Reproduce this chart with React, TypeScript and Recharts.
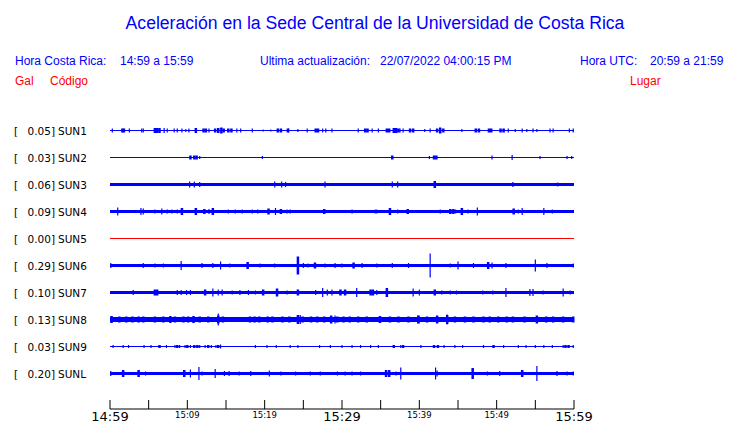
import { ComposedChart, Line, Scatter, ErrorBar, XAxis, YAxis } from 'recharts';

// stations, top to bottom
const stations = ['SUN1', 'SUN2', 'SUN3', 'SUN4', 'SUN5', 'SUN6', 'SUN7', 'SUN8', 'SUN9', 'SUNL'];
const places = [
  'CIMAR',
  'Ingenieria P01',
  'Ingenieria P06',
  'EBCI',
  'Rectoria',
  'Agroalimentarias',
  'Archivo',
  'Electrica P06',
  'Electrica P01',
  'LANAMME-CTT',
];
const peakGal = [0.05, 0.03, 0.06, 0.09, 0.0, 0.29, 0.1, 0.13, 0.03, 0.2];

// minutes after 14:59
const xTicks = [0, 5, 10, 15, 20, 25, 30, 35, 40, 45, 50, 55, 60];
const xTickLabels = ['14:59', '', '15:09', '', '15:19', '', '15:29', '', '15:39', '', '15:49', '', '15:59'];

type Pt = [number, number]; // [minute, half amplitude]

const sun1Spikes: Pt[] = [
  [0.3, 2], [2.5, 2], [4.1, 2], [4.3, 2], [7.0, 2.5], [7.4, 2], [8.3, 2], [8.7, 2], [9.3, 2], [9.8, 1.5],
  [10.2, 2], [12.8, 2], [16.4, 2], [16.9, 2], [18.4, 2], [19.8, 1], [20.8, 1], [23.1, 2], [24.3, 1.5],
  [25.5, 2], [27.5, 2], [27.9, 2], [28.7, 2], [32.1, 2], [33.9, 2], [34.7, 2], [37.5, 2], [37.9, 2],
  [40.7, 1.5], [41.4, 2], [45.5, 1.5], [51.5, 2], [52.4, 1.5], [53.3, 2], [53.9, 1.5], [54.7, 2],
  [55.2, 1.5], [56.9, 2], [57.3, 2], [59.4, 2], [59.9, 2],
];
const sun1Bursts: Pt[] = [
  [1.6, 2], [1.8, 2], [5.8, 2.5], [6.1, 2.5], [6.4, 2.5], [11.1, 2.5], [12.1, 2], [12.4, 2], [13.6, 2],
  [14.0, 2.5], [14.4, 3], [14.7, 2], [15.3, 2], [15.7, 2], [21.7, 2], [22.1, 2], [23.0, 2], [26.6, 2],
  [26.9, 2], [33.0, 2], [33.3, 2], [35.8, 2], [36.1, 2], [36.7, 2.5], [37.0, 2.5], [37.3, 2], [38.8, 2],
  [39.2, 2], [42.3, 2], [42.7, 3], [43.1, 2], [47.3, 2], [47.7, 2], [49.0, 2], [49.3, 2], [50.5, 2], [50.9, 2],
];

const sun2Spikes: Pt[] = [
  [11.6, 1.5], [19.7, 1.5], [41.3, 1.5], [49.4, 2], [52.0, 2.5], [55.6, 1.5], [59.1, 1.5], [59.7, 1.5],
];
const sun2Bursts: Pt[] = [[10.4, 2], [10.9, 2], [11.2, 2], [36.5, 2], [41.9, 2], [42.2, 2]];

const sun3Spikes: Pt[] = [
  [10.3, 3], [10.9, 3], [11.6, 2.5], [21.3, 3], [22.2, 3], [22.7, 2.5], [27.8, 3], [36.5, 3], [37.2, 3],
  [52.1, 2.5], [57.9, 2],
];
const sun3Bursts: Pt[] = [[42.0, 3.5]];

const sun4Spikes: Pt[] = [
  [1.0, 4], [4.0, 3.5], [4.3, 3], [5.8, 2], [6.7, 3], [7.4, 2], [8.0, 2], [8.7, 2], [12.8, 2.5], [15.3, 2],
  [16.2, 2], [17.1, 2], [18.4, 2], [19.1, 2], [21.4, 3.5], [22.9, 2], [23.3, 2], [31.3, 2], [34.3, 2],
  [34.5, 2], [37.2, 2], [42.7, 2], [44.7, 2], [46.3, 2], [47.5, 4], [49.1, 1.5], [49.9, 1.5], [52.8, 2],
  [53.3, 3.5], [54.7, 1.5], [56.1, 3.5], [57.2, 2],
];
const sun4Bursts: Pt[] = [
  [9.3, 3.5], [11.1, 3.5], [12.2, 2.5], [13.3, 3.5], [20.5, 3], [22.1, 2.5], [27.7, 2.5], [36.2, 3.5],
  [38.5, 2.5], [44.0, 2.5], [44.4, 2.5], [45.5, 3.5], [52.2, 3],
];

const sun5Spikes: Pt[] = [];
const sun5Bursts: Pt[] = [];

const sun6Spikes: Pt[] = [
  [0.1, 2.5], [4.3, 2.5], [5.8, 2], [6.9, 2], [9.2, 4.5], [11.9, 2.5], [13.3, 2.5], [14.3, 4], [15.5, 2],
  [19.4, 2], [21.3, 2], [25.0, 2.5], [25.6, 2], [27.8, 2], [29.1, 2.5], [30.0, 2], [32.6, 2.5], [34.5, 2],
  [36.5, 2.5], [38.6, 2.5], [41.4, 12], [44.0, 2], [45.0, 4], [47.0, 2.5], [49.4, 3], [51.2, 2.5],
  [55.0, 6], [56.5, 2.5], [59.9, 2],
];
const sun6Bursts: Pt[] = [[17.8, 3.5], [24.3, 9], [26.5, 3], [31.5, 3], [48.9, 3.5]];

const sun7Spikes: Pt[] = [
  [3.0, 2.5], [8.7, 2.5], [9.2, 2.5], [9.9, 2.5], [10.4, 2.5], [13.3, 4], [14.0, 3], [14.5, 3], [15.8, 2],
  [16.8, 2.5], [17.9, 2.5], [18.8, 2], [22.9, 2], [26.6, 2.5], [27.5, 4.5], [28.1, 3], [28.7, 3],
  [31.9, 4.5], [34.5, 2.5], [39.2, 4], [40.0, 3], [42.9, 2], [44.0, 2], [44.8, 2], [45.6, 1.5], [48.2, 2],
  [49.5, 2], [51.2, 4.5], [54.3, 3.5], [54.7, 3.5], [56.0, 2], [58.6, 4], [59.5, 2],
];
const sun7Bursts: Pt[] = [
  [5.8, 3], [6.1, 3], [12.3, 3], [19.8, 3], [21.6, 4], [24.3, 3], [29.8, 3], [30.4, 3], [33.7, 3],
  [34.0, 3], [35.8, 4.5], [42.0, 3],
];

const sun8Spikes: Pt[] = [
  [14.0, 6], [24.6, 4.5], [29.1, 4], [43.6, 5], [39.8, 4], [15.3, 2.5], [16.5, 2.5], [17.3, 2.5],
];
const sun8Bursts: Pt[] = [
  [0.2, 3.5], [1.2, 3], [2.1, 3], [2.9, 3], [3.7, 3], [4.3, 3], [5.8, 3], [6.9, 3], [7.8, 3.5], [8.4, 3],
  [9.5, 3], [10.1, 3], [10.8, 3.5], [11.6, 3], [12.7, 3], [14.0, 4], [14.6, 3], [18.1, 3], [18.7, 3],
  [19.3, 3], [20.4, 3], [21.0, 3], [22.3, 3], [23.2, 3], [24.3, 4.5], [24.9, 3], [26.0, 3], [26.8, 3],
  [27.7, 3], [28.6, 4], [29.4, 3], [30.2, 3], [31.0, 3], [32.1, 3], [33.2, 3], [34.9, 3.5], [36.2, 3],
  [37.3, 3], [38.6, 3], [39.9, 4], [41.0, 3], [42.3, 4], [43.6, 4.5], [44.6, 3], [45.9, 3], [47.0, 3],
  [48.3, 3], [49.1, 3], [50.2, 3], [51.3, 3], [52.1, 3], [53.6, 3], [55.2, 4], [56.4, 3], [57.3, 3],
  [58.6, 3], [59.9, 3],
];

const sun9Spikes: Pt[] = [
  [0.4, 1.5], [1.7, 1.5], [2.4, 1.5], [4.4, 1.5], [5.3, 1.5], [7.3, 1.5], [8.4, 1.5], [9.0, 1.5], [9.7, 1.5],
  [10.4, 1.5], [11.6, 1.5], [12.3, 1.5], [13.1, 1.5], [13.7, 1.5], [14.3, 2], [18.8, 1.5], [20.3, 1.5],
  [21.5, 1.5], [23.3, 1.5], [24.3, 1.5], [27.1, 1.5], [28.5, 1.5], [30.0, 1.5], [31.3, 1.5], [32.4, 1.5],
  [33.7, 1.5], [34.7, 1.5], [37.6, 1.5], [40.2, 1.5], [43.2, 1.5], [44.6, 1.5], [45.6, 1.5], [48.3, 1.5],
  [50.9, 1.5], [52.8, 1.5], [53.8, 1.5], [55.0, 1.5], [56.1, 1.5], [57.2, 1.5], [58.6, 1.5], [59.9, 1.5],
];
const sun9Bursts: Pt[] = [
  [6.4, 1.5], [8.7, 1.5], [10.0, 1.5], [10.9, 1.5], [11.3, 1.5], [12.7, 1.5], [14.0, 1.5], [36.7, 1.5],
  [37.9, 1.5], [41.9, 1.5], [42.4, 1.5], [49.6, 1.5], [58.9, 1.5], [59.3, 1.5],
];

const sunLSpikes: Pt[] = [
  [0.1, 2.5], [4.6, 2], [10.4, 4], [11.5, 6.5], [11.9, 2], [13.6, 4.5], [14.8, 2.5], [15.4, 2.5], [16.7, 2],
  [18.2, 2.5], [20.6, 3], [22.1, 2], [24.0, 2], [25.9, 2], [27.2, 2], [29.4, 2], [30.4, 2], [31.3, 2],
  [32.4, 2], [37.0, 2], [37.6, 6], [42.1, 6], [42.3, 3], [48.8, 2], [50.4, 2.5], [55.2, 7.5], [57.8, 2.5],
  [59.1, 2], [59.9, 2],
];
const sunLBursts: Pt[] = [[1.7, 3.5], [3.7, 3.5], [9.6, 3.5], [35.7, 3.5], [36.1, 3.5], [46.9, 5.5], [53.3, 3.5]];

const spikesByStation = [
  sun1Spikes, sun2Spikes, sun3Spikes, sun4Spikes, sun5Spikes,
  sun6Spikes, sun7Spikes, sun8Spikes, sun9Spikes, sunLSpikes,
];
const burstsByStation = [
  sun1Bursts, sun2Bursts, sun3Bursts, sun4Bursts, sun5Bursts,
  sun6Bursts, sun7Bursts, sun8Bursts, sun9Bursts, sunLBursts,
];

const ROW_STEP = 27;
const rowValue = (i: number) => (i + 1) * ROW_STEP;
const rowTicks = stations.map((_, i) => rowValue(i));
// half-unit offset keeps the 1px traces on whole pixels
const Y_DOMAIN: [number, number] = [-0.5, 305.5];

const traceWidths = [1, 1, 3, 3, 1, 3, 3, 5, 1, 3];
const BLUE = '#0000ff';
const RED = '#ff0000';
const traceColor = (i: number) => (peakGal[i] === 0 ? RED : BLUE);

const traceTables = stations.map((_, i) => [
  { t: 0, row: rowValue(i) },
  { t: 60, row: rowValue(i) },
]);
const spikeTable = spikesByStation.flatMap((list, i) => list.map(([t, amp]) => ({ t, row: rowValue(i), amp })));
const burstTable = burstsByStation.flatMap((list, i) => list.map(([t, amp]) => ({ t, row: rowValue(i), amp })));

const LABEL_FONT = 'DejaVu Sans, sans-serif';
const HEAD_FONT = 'Liberation Sans, Arial, sans-serif';

function StationTick({ x, y, payload }: any) {
  const i = Math.round(payload.value / ROW_STEP) - 1;
  return (
    <g fontFamily={LABEL_FONT} fontSize={10.5} fill="#000">
      <text x={x - 96} y={y + 4}>[</text>
      <text x={x - 55} y={y + 4} textAnchor="end">{peakGal[i].toFixed(2)}]</text>
      <text x={x - 52} y={y + 4}>{stations[i]}</text>
    </g>
  );
}

function PlaceTick({ x, y, payload }: any) {
  const i = Math.round(payload.value / ROW_STEP) - 1;
  return (
    <text x={x + 13} y={y + 4} fontFamily={LABEL_FONT} fontSize={10.5} fill="#000">
      {places[i]}
    </text>
  );
}

function TimeTick({ x, y, payload }: any) {
  const idx = xTicks.indexOf(payload.value);
  const label = xTickLabels[idx];
  const big = idx % 6 === 0;
  return (
    <g>
      <line x1={x} x2={x} y1={y - 9} y2={y} stroke="#000" />
      {label && (
        <text
          x={x}
          y={big ? y + 12 : y + 9}
          textAnchor="middle"
          fontFamily={LABEL_FONT}
          fontSize={big ? 13 : 8.5}
          fill="#000"
        >
          {label}
        </text>
      )}
    </g>
  );
}

const noDot = () => <g />;

export default function App() {
  return (
    <div style={{ position: 'absolute', left: 0, top: 0, width: 740, height: 423, background: '#fff' }}>
      <ComposedChart width={740} height={423} margin={{ top: 103, right: 0, bottom: 0, left: 0 }}>
        <XAxis
          dataKey="t"
          type="number"
          domain={[0, 60]}
          ticks={xTicks}
          interval={0}
          height={14}
          tickSize={0}
          tickMargin={0}
          tickLine={false}
          axisLine={{ stroke: '#000' }}
          tick={TimeTick}
        />
        <YAxis
          yAxisId="l"
          dataKey="row"
          type="number"
          domain={Y_DOMAIN}
          reversed
          ticks={rowTicks}
          interval={0}
          width={110}
          tickSize={0}
          tickMargin={0}
          axisLine={false}
          tickLine={false}
          tick={StationTick}
        />
        <YAxis
          yAxisId="r"
          orientation="right"
          type="number"
          domain={Y_DOMAIN}
          reversed
          ticks={rowTicks}
          interval={0}
          width={166}
          tickSize={0}
          tickMargin={0}
          axisLine={false}
          tickLine={false}
          tick={PlaceTick}
        />
        {traceTables.map((data, i) => (
          <Line
            key={stations[i]}
            yAxisId="l"
            data={data}
            dataKey="row"
            stroke={traceColor(i)}
            strokeWidth={traceWidths[i]}
            dot={false}
            isAnimationActive={false}
          />
        ))}
        <Scatter yAxisId="l" data={spikeTable} dataKey="row" shape={noDot} isAnimationActive={false}>
          <ErrorBar dataKey="amp" direction="y" width={0} strokeWidth={1.2} stroke={BLUE} isAnimationActive={false} />
        </Scatter>
        <Scatter yAxisId="l" data={burstTable} dataKey="row" shape={noDot} isAnimationActive={false}>
          <ErrorBar dataKey="amp" direction="y" width={0} strokeWidth={2.5} stroke={BLUE} isAnimationActive={false} />
        </Scatter>
      </ComposedChart>
      <svg width={740} height={100} style={{ position: 'absolute', left: 0, top: 0, pointerEvents: 'none' }}>
        <text x={375} y={29} textAnchor="middle" fontFamily={HEAD_FONT} fontSize={17.6} fill={BLUE}>
          Aceleración en la Sede Central de la Universidad de Costa Rica
        </text>
        <g fontFamily={HEAD_FONT} fontSize={12} fill={BLUE}>
          <text x={15} y={65}>Hora Costa Rica:</text>
          <text x={120} y={65}>14:59 a 15:59</text>
          <text x={260} y={65}>Ultima actualización:</text>
          <text x={380} y={65}>22/07/2022 04:00:15 PM</text>
          <text x={580} y={65}>Hora UTC:</text>
          <text x={650} y={65}>20:59 a 21:59</text>
        </g>
        <g fontFamily={HEAD_FONT} fontSize={12} fill={RED}>
          <text x={15} y={85}>Gal</text>
          <text x={50} y={85}>Código</text>
          <text x={630} y={85}>Lugar</text>
        </g>
      </svg>
    </div>
  );
}
